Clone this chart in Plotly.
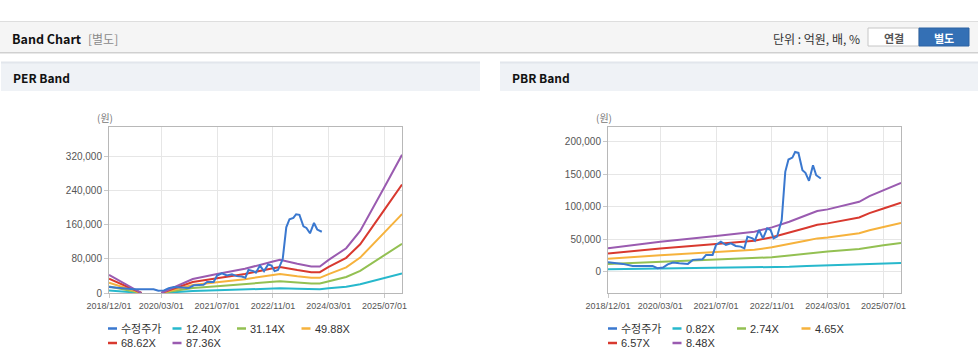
import plotly.graph_objects as go

W, H = 978, 361

# ---------------- data ----------------
price_dates = ["2018-12-01", "2019-02-15", "2019-04-10", "2019-07-05", "2019-12-25", "2020-02-05",
               "2020-03-25", "2020-05-05", "2020-06-20", "2020-08-15", "2020-10-28", "2020-12-10",
               "2021-03-05", "2021-04-05", "2021-06-01", "2021-07-01", "2021-08-12", "2021-09-25",
               "2021-11-08", "2021-12-20", "2022-02-01", "2022-03-05", "2022-04-01", "2022-05-15",
               "2022-06-05", "2022-07-10", "2022-08-15", "2022-09-20", "2022-10-20", "2022-11-15",
               "2022-12-15", "2023-01-25", "2023-02-25", "2023-03-25", "2023-04-28", "2023-05-22",
               "2023-06-20", "2023-07-25", "2023-08-20", "2023-09-20", "2023-10-25", "2023-11-22",
               "2024-01-01"]
price_vals = [14300, 12800, 11800, 8700, 8700, 5100,
              6100, 11000, 13800, 12800, 11800, 18000,
              19000, 25600, 25600, 40900, 46000, 40900,
              43500, 39400, 38400, 35800, 53700, 51100,
              47600, 64000, 51100, 66500, 64000, 51100,
              53700, 79300, 153500, 172400, 175400, 184100,
              182600, 156000, 152000, 139600, 163700, 148300,
              143200]

# PER bands (None = negative earnings, not drawn)
per_dates = ["2018-12-01", "2019-09-10", "2019-12-01", "2020-03-01", "2020-12-01", "2021-07-01", "2022-03-01",
             "2022-11-01", "2023-01-01", "2023-06-01", "2023-10-01", "2023-12-15", "2024-03-01",
             "2024-08-01", "2024-12-01", "2025-07-01", "2025-12-01"]
per_1240 = [6050, 0, None, 0, 4630, 6270, 8030, 10450, 11000, 9680, 8800, 8800, 11000, 14860, 20580, 35200, 45850]
per_3114 = [15190, 0, None, 0, 11620, 15760, 20180, 26240, 27630, 24310, 22100, 22100, 27630, 37320, 51690, 88400, 115140]
per_4988 = [24320, 0, None, 0, 18610, 25240, 32320, 42020, 44250, 38940, 35400, 35400, 44250, 59780, 82790, 141600, 184420]
per_6862 = [33460, 0, None, 0, 25610, 34720, 44460, 57810, 60880, 53570, 48700, 48700, 60880, 82240, 113900, 194800, 253710]
per_8736 = [42600, 0, None, 0, 32600, 44200, 56600, 73600, 77500, 68200, 62000, 62000, 77500, 104700, 145000, 248000, 323000]
per_labels = ["12.40X", "31.14X", "49.88X", "68.62X", "87.36X"]

pbr_dates = ["2018-12-01", "2020-03-01", "2021-07-01", "2022-06-01", "2022-11-01", "2023-04-01",
             "2023-09-01", "2023-12-01", "2024-03-01", "2024-12-01", "2025-03-01", "2025-07-01",
             "2025-12-01"]
pbr_082 = [3460, 4450, 5290, 5940, 6580, 7420, 8410, 9000, 9250, 10390, 11230, 12120, 13210]
pbr_274 = [11570, 14860, 17670, 19840, 21970, 24780, 28110, 30080, 30920, 34700, 37510, 40480, 44140]
pbr_465 = [19630, 25220, 29990, 33670, 37280, 42060, 47700, 51050, 52470, 58890, 63660, 68700, 74900]
pbr_657 = [27740, 35640, 42380, 47570, 52690, 59430, 67410, 72130, 74150, 83210, 89950, 97080, 105840]
pbr_848 = [35800, 46000, 54700, 61400, 68000, 76700, 87000, 93100, 95700, 107400, 116100, 125300, 136600]
pbr_labels = ["0.82X", "2.74X", "4.65X", "6.57X", "8.48X"]

price_label = "수정주가"
x_tick_vals = ["2018-12-01", "2020-03-01", "2021-07-01", "2022-11-01", "2024-03-01", "2025-07-01"]
x_tick_text = ["2018/12/01", "2020/03/01", "2021/07/01", "2022/11/01", "2024/03/01", "2025/07/01"]
per_y_ticks = [0, 80000, 160000, 240000, 320000]
pbr_y_ticks = [0, 50000, 100000, 150000, 200000]

# ---------------- style ----------------
C_PRICE = "#3a78cf"
BAND_COLORS = ["#27b8cc", "#93c052", "#f6b23c", "#d8392f", "#9a5bb0"]
FONT = "Liberation Sans, Noto Sans CJK KR, sans-serif"
KFONT = "Noto Sans CJK KR, Liberation Sans, sans-serif"


def px(x):
    return x / W


def py(y):
    return 1 - y / H


fig = go.Figure()

per_series = [per_1240, per_3114, per_4988, per_6862, per_8736]
pbr_series = [pbr_082, pbr_274, pbr_465, pbr_657, pbr_848]

for vals, lab, col in zip(per_series, per_labels, BAND_COLORS):
    fig.add_trace(go.Scatter(x=per_dates, y=vals, name=lab, mode="lines", connectgaps=False,
                             line=dict(color=col, width=2), xaxis="x", yaxis="y", showlegend=False))
fig.add_trace(go.Scatter(x=price_dates, y=price_vals, name=price_label, mode="lines",
                         line=dict(color=C_PRICE, width=2), xaxis="x", yaxis="y", showlegend=False))

for vals, lab, col in zip(pbr_series, pbr_labels, BAND_COLORS):
    fig.add_trace(go.Scatter(x=pbr_dates, y=vals, name=lab, mode="lines",
                             line=dict(color=col, width=2), xaxis="x2", yaxis="y2", showlegend=False))
fig.add_trace(go.Scatter(x=price_dates, y=price_vals, name=price_label, mode="lines",
                         line=dict(color=C_PRICE, width=2), xaxis="x2", yaxis="y2", showlegend=False))

xcommon = dict(type="date", range=["2018-12-01", "2025-12-01"], tickvals=x_tick_vals, ticktext=x_tick_text,
               tickangle=0, tickfont=dict(size=9, color="#555", family=FONT), showgrid=True, gridcolor="#e6e6e6",
               showline=True, linecolor="#b8b8b8", mirror=True, zeroline=False, automargin=False,
               ticks="outside", ticklen=4, tickcolor="#c8c8c8")
ycommon = dict(tickformat=",", tickfont=dict(size=10, color="#555", family=FONT), showgrid=True,
               gridcolor="#e6e6e6", showline=True, linecolor="#b8b8b8", mirror=True, zeroline=False,
               automargin=False, ticks="outside", ticklen=4, tickcolor="#c8c8c8")

ydom = [py(293), py(127)]
fig.update_layout(
    width=W, height=H, autosize=False,
    margin=dict(l=0, r=0, t=0, b=0, pad=0, autoexpand=False),
    paper_bgcolor="white", plot_bgcolor="white", showlegend=False,
    xaxis=dict(domain=[px(109), px(402)], anchor="y", **xcommon),
    yaxis=dict(domain=ydom, anchor="x", range=[0, 388000], tickvals=per_y_ticks, **ycommon),
    xaxis2=dict(domain=[px(608), px(901)], anchor="y2", **xcommon),
    yaxis2=dict(domain=ydom, anchor="x2", range=[-33000, 222500], tickvals=pbr_y_ticks, **ycommon),
)

shapes = []
ann = []


def rect(x0, y0, x1, y1, fill, line=None, lw=1):
    shapes.append(dict(type="rect", xref="paper", yref="paper", x0=px(x0), x1=px(x1), y0=py(y1), y1=py(y0),
                       fillcolor=fill, line=dict(color=line if line else "rgba(0,0,0,0)", width=lw if line else 0),
                       layer="below"))


def hline(x0, x1, y, color, w=1):
    shapes.append(dict(type="line", xref="paper", yref="paper", x0=px(x0), x1=px(x1), y0=py(y), y1=py(y),
                       line=dict(color=color, width=w), layer="below"))


def text(x, y, s, size=11, color="#333", anchor="left", family=FONT):
    ann.append(dict(xref="paper", yref="paper", x=px(x), y=py(y), text=s, showarrow=False,
                    xanchor=anchor, yanchor="middle", borderpad=0,
                    font=dict(size=size, color=color, family=family)))


# header bar
rect(0, 21, 978, 52, "#f5f5f5")
hline(0, 978, 21.5, "#dedede")
hline(0, 978, 52.5, "#d0d0d0")
hline(0, 978, 53.5, "#e8e8e8")
text(11, 38, "<b>Band Chart</b>", size=12.5, color="#111", family=KFONT)
text(87, 38, "[별도]", size=12, color="#8a8a8a", family=KFONT)
text(861, 38, "단위 : 억원, 배, %", size=12, color="#333", anchor="right", family=KFONT)
shapes.append(dict(type="rect", xref="paper", yref="paper", x0=px(868), x1=px(919), y0=py(46), y1=py(28),
                   fillcolor="white", line=dict(color="#c6c6c6", width=1)))
shapes.append(dict(type="rect", xref="paper", yref="paper", x0=px(919), x1=px(969), y0=py(46), y1=py(28),
                   fillcolor="#3470b5", line=dict(color="#2d62a2", width=1)))
text(893.5, 37.5, "<b>연결</b>", size=11, color="#555", anchor="center", family=KFONT)
text(944, 37.5, "<b>별도</b>", size=11, color="white", anchor="center", family=KFONT)

# panel title bars
for x0, x1, title in [(1, 480, "PER Band"), (500, 978, "PBR Band")]:
    rect(x0, 62, x1, 91, "#eff2f6")
    hline(x0, x1, 62.5, "#e2e6ec", 2)
    text(x0 + 11, 78, "<b>" + title + "</b>", size=12, color="#111", family=KFONT)

# unit labels
text(105, 117, "(원)", size=10, color="#777", anchor="center", family=KFONT)
text(604, 117, "(원)", size=10, color="#777", anchor="center", family=KFONT)


# manual legends
def legend(x_start, labels):
    entries = [(price_label, C_PRICE)] + list(zip(labels, BAND_COLORS))
    for i, (lab, col) in enumerate(entries):
        row, colno = divmod(i, 4)
        lx = x_start + colno * 64.5
        ly = 328.5 + row * 14.5
        shapes.append(dict(type="line", xref="paper", yref="paper", x0=px(lx), x1=px(lx + 9), y0=py(ly), y1=py(ly),
                           line=dict(color=col, width=2.5)))
        text(lx + 12, ly, lab, size=11, color="#333")


legend(108, per_labels)
legend(608, pbr_labels)

fig.update_layout(shapes=shapes, annotations=ann)
fig.write_html("out.html", config={"displayModeBar": False, "responsive": False},
               post_script="document.body.style.margin='0';document.body.style.overflow='hidden';")
